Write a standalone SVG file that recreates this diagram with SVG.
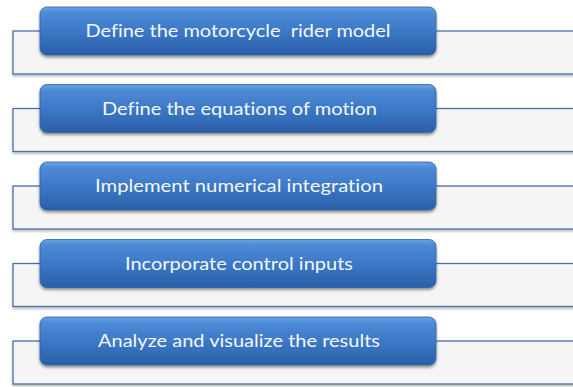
<svg xmlns="http://www.w3.org/2000/svg" width="573" height="387" viewBox="0 0 573 387">
  <defs>
    <linearGradient id="btnFill" x1="0" y1="0" x2="0" y2="1">
      <stop offset="0" stop-color="#6aa3e4"/>
      <stop offset="0.12" stop-color="#4d8ad6"/>
      <stop offset="0.55" stop-color="#3a76c4"/>
      <stop offset="1" stop-color="#2b5fa8"/>
    </linearGradient>
    <filter id="btnShadow" x="-5%" y="-20%" width="110%" height="150%">
      <feGaussianBlur in="SourceAlpha" stdDeviation="1.6"/>
      <feOffset dx="0" dy="2" result="b"/>
      <feComponentTransfer><feFuncA type="linear" slope="0.45"/></feComponentTransfer>
      <feMerge><feMergeNode/><feMergeNode in="SourceGraphic"/></feMerge>
    </filter>
    <filter id="boxShadow" x="-5%" y="-20%" width="110%" height="150%">
      <feGaussianBlur in="SourceAlpha" stdDeviation="1.2"/>
      <feOffset dx="0" dy="2"/>
      <feComponentTransfer><feFuncA type="linear" slope="0.25"/></feComponentTransfer>
      <feMerge><feMergeNode/><feMergeNode in="SourceGraphic"/></feMerge>
    </filter>
  </defs>
  <style>
    .box { fill: #f5f5f5; stroke: #4a6ea8; stroke-width: 1.3; filter: url(#boxShadow); }
    .btn { fill: url(#btnFill); stroke: #2f62a6; stroke-width: 0.8; filter: url(#btnShadow); }
    .lbl { font-family: Lato, "Open Sans", "DejaVu Sans", sans-serif; font-size: 17px; font-weight: 400; fill: #f4f8fd; text-anchor: middle; white-space: pre; font-variant-ligatures: none; font-feature-settings: "liga" 0, "dlig" 0; }
  </style>
  <rect width="573" height="387" fill="#ffffff"/>

  <g id="step1">
    <rect class="box" x="13" y="31" width="580" height="43"/>
    <rect class="btn" x="40" y="7" width="396" height="48" rx="7"/>
    <text class="lbl" x="238" y="37" textLength="305" lengthAdjust="spacingAndGlyphs" xml:space="preserve">Define the motorcycle  rider model</text>
  </g>

  <g id="step2">
    <rect class="box" x="13" y="108.5" width="580" height="43"/>
    <rect class="btn" x="40" y="84.5" width="396" height="48" rx="7"/>
    <text class="lbl" x="239.5" y="114.5" textLength="275" lengthAdjust="spacingAndGlyphs">Define the equations of motion</text>
  </g>

  <g id="step3">
    <rect class="box" x="13" y="186" width="580" height="43"/>
    <rect class="btn" x="40" y="162" width="396" height="48" rx="7"/>
    <text class="lbl" x="239" y="192" textLength="288" lengthAdjust="spacingAndGlyphs">Implement numerical integration</text>
  </g>

  <g id="step4">
    <rect class="box" x="13" y="263.5" width="580" height="43"/>
    <rect class="btn" x="40" y="239.5" width="396" height="48" rx="7"/>
    <text class="lbl" x="239" y="269.5" textLength="228" lengthAdjust="spacingAndGlyphs">Incorporate control inputs</text>
  </g>

  <g id="step5">
    <rect class="box" x="13" y="341" width="580" height="43"/>
    <rect class="btn" x="40" y="317" width="396" height="48" rx="7"/>
    <text class="lbl" x="239" y="347" textLength="282" lengthAdjust="spacingAndGlyphs">Analyze and visualize the results</text>
  </g>

  <g id="connectors"/>
</svg>
